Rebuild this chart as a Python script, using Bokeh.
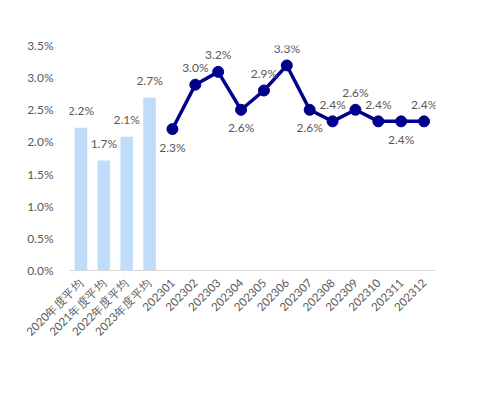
from bokeh.plotting import figure
from bokeh.models import ColumnDataSource, FactorRange, Range1d, FixedTicker, PrintfTickFormatter
from bokeh.core.properties import value
from bokeh.embed import file_html
from bokeh.resources import INLINE
import math

# ---- data ----
bar_cats = ["2020年度平均", "2021年度平均", "2022年度平均", "2023年度平均"]
bar_values = [2.22, 1.71, 2.08, 2.69]
bar_labels = ["2.2%", "1.7%", "2.1%", "2.7%"]

month_cats = ["202301", "202302", "202303", "202304", "202305", "202306",
              "202307", "202308", "202309", "202310", "202311", "202312"]
month_values = [2.20, 2.89, 3.09, 2.50, 2.80, 3.19, 2.50, 2.32, 2.50, 2.32, 2.32, 2.32]
month_labels = ["2.3%", "3.0%", "3.2%", "2.6%", "2.9%", "3.3%",
                "2.6%", "2.4%", "2.6%", "2.4%", "2.4%", "2.4%"]
month_label_side = ["below", "above", "above", "below", "above", "above",
                    "below", "above", "above", "above", "below", "above"]

y_ticks = [0, 0.5, 1.0, 1.5, 2.0, 2.5, 3.0, 3.5]

FONT = "Lato"
TXT = "#595959"
FS = "12px"

p = figure(x_range=FactorRange(*(bar_cats + month_cats), range_padding=0),
           y_range=Range1d(0, 3.5),
           width=464, height=379, output_backend="svg", toolbar_location=None,
           min_border_left=69, min_border_right=29, min_border_top=45, min_border_bottom=109)
p.outline_line_color = None
p.grid.grid_line_color = None
p.background_fill_color = "white"

p.vbar(x=bar_cats, top=bar_values, width=0.55, color="#BFDDFB", line_color=None)

p.line(x=month_cats, y=month_values, line_color="#00008B", line_width=3.5)
p.scatter(x=month_cats, y=month_values, size=11, color="#00008B")

bsrc = ColumnDataSource(dict(x=bar_cats, y=bar_values, t=bar_labels))
p.text(x="x", y="y", text="t", source=bsrc, y_offset=-17, text_align="center",
       text_baseline="middle", text_font=value(FONT), text_font_size=FS, text_color=TXT)

up = [i for i, s in enumerate(month_label_side) if s == "above"]
dn = [i for i, s in enumerate(month_label_side) if s == "below"]
usrc = ColumnDataSource(dict(x=[month_cats[i] for i in up], y=[month_values[i] for i in up],
                             t=[month_labels[i] for i in up]))
dsrc = ColumnDataSource(dict(x=[month_cats[i] for i in dn], y=[month_values[i] for i in dn],
                             t=[month_labels[i] for i in dn]))
p.text(x="x", y="y", text="t", source=usrc, y_offset=-17, text_align="center",
       text_baseline="middle", text_font=value(FONT), text_font_size=FS, text_color=TXT)
p.text(x="x", y="y", text="t", source=dsrc, y_offset=18, text_align="center",
       text_baseline="middle", text_font=value(FONT), text_font_size=FS, text_color=TXT)

p.yaxis.ticker = FixedTicker(ticks=y_ticks)
p.yaxis.formatter = PrintfTickFormatter(format="%.1f%%")
p.yaxis.axis_line_color = None
p.yaxis.major_tick_line_color = None
p.yaxis.minor_tick_line_color = None
p.yaxis.major_label_text_font = FONT
p.yaxis.major_label_text_font_size = FS
p.yaxis.major_label_text_color = TXT
p.yaxis.major_label_standoff = 10

p.xaxis.axis_line_color = "#D9D9D9"
p.xaxis.major_tick_line_color = None
p.xaxis.minor_tick_line_color = None
p.xaxis.major_label_orientation = math.pi / 4
p.xaxis.major_label_text_font = FONT
p.xaxis.major_label_text_font_size = "11.5px"
p.xaxis.major_label_text_color = TXT
p.xaxis.major_label_standoff = 4

open("out.html", "w").write(file_html(p, INLINE))
